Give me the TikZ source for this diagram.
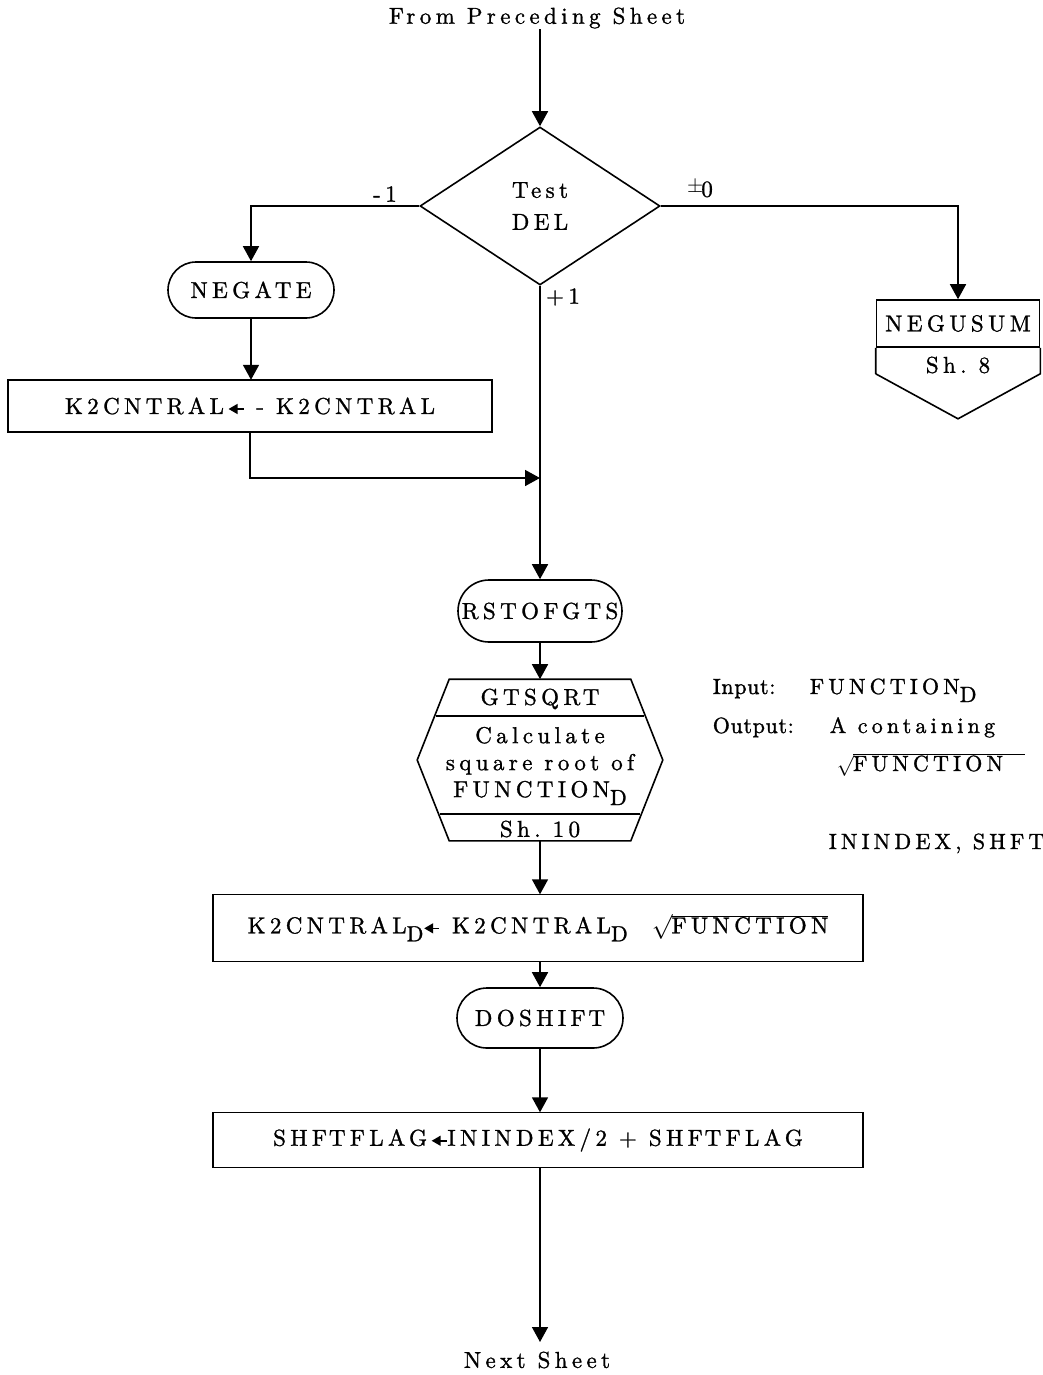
\documentclass[tikz,border=0pt]{standalone}
\usepackage{fontspec}
\setmainfont{lmroman10-regular}[Extension=.otf, LetterSpace=19, FakeBold=1.2]
\usetikzlibrary{arrows.meta,shapes.geometric,calc}

% lowered subscript letter as typed on the sheet
\newcommand\subD{\raisebox{-8pt}{\fontsize{22}{22}\selectfont D}}
% small filled assignment arrow
\newcommand\lar{\tikz[baseline=-5pt]\draw[line width=1.5pt,-{Triangle[width=10pt,length=9pt]}] (15pt,0pt) -- (0pt,0pt);}
% square root sign with bar
\newcommand\rootof[1]{$\surd$\kern-1pt$\overline{\hbox{#1}}$}

\begin{document}
\begin{tikzpicture}[x=1pt,y=-1pt,line width=1.6pt,
  flow/.style={-{Triangle[width=16pt,length=15pt]}},
  txt/.style={font=\fontsize{23}{32}\selectfont,inner sep=0pt},
  side/.style={font=\fontsize{22}{26}\selectfont,inner sep=0pt,anchor=base west},
  sidelabel/.style={side,font=\fontsize{22}{26}\selectfont\addfontfeatures{LetterSpace=3}},
  procbox/.style={draw,rectangle,inner sep=0pt,font=\fontsize{23}{27}\selectfont},
  term/.style={draw,rectangle,rounded corners=28pt,inner sep=0pt,font=\fontsize{23}{27}\selectfont},
  decision/.style={draw,diamond,inner sep=0pt,align=center,font=\fontsize{23}{32}\selectfont}]

\fill[white] (0,0) rectangle (1043,1375);
\useasboundingbox (0,0) rectangle (1043,1375);

% entry
\node[txt] (src) at (537,18) {From Preceding Sheet};
\node[decision,minimum width=240pt,minimum height=158pt] (d) at (540,206) {Test\\DEL};

% -1 branch
\node[term,minimum width=166pt,minimum height=56pt] (negate) at (251,290) {NEGA\kern3pt TE};
\node[procbox,minimum width=484pt,minimum height=52pt] (k2) at (250,406) {K2CNTRAL\,\lar\ - K2CNTRAL};
\coordinate (merge) at (540,478);

% zero branch: off-page connector
\node[draw,rectangle,inner sep=0pt,minimum width=163pt,minimum height=47pt,font=\fontsize{23}{27}\selectfont] (negu) at (958,323.5) {NEGUSUM};
\draw ($(negu.south west)+(0,26)$) -- (negu.south west) (negu.south east) -- ($(negu.south east)+(0,26)$)
      -- ($(negu.south)+(0,71)$) -- ($(negu.south west)+(0,26)$);
\node[txt] (negush) at (958,365) {Sh.\ 8};

% main column
\node[term,minimum width=164pt,minimum height=62pt,rounded corners=31pt] (rst) at (540,611) {RSTOFGTS};

\node[inner sep=0pt,minimum width=244pt,minimum height=160pt] (hex) at (540,760) {};
\draw ($(hex.north west)+(32,0)$) -- ($(hex.north east)+(-32,0)$) -- (hex.east)
      -- ($(hex.south east)+(-32,0)$) -- ($(hex.south west)+(32,0)$) -- (hex.west) -- cycle;
\draw (435.6,716) -- (644.4,716);
\draw (439.6,814) -- (640.4,814);
\node[txt] (hname) at (540,699) {GTSQRT};
\node[txt,align=center,font=\fontsize{23}{27}\selectfont] (hbody) at (540,766) {Calculate\\square root of\\FUNCTION\subD};
\node[txt] (hsheet) at (540,829) {Sh.\ 10};

\node[procbox,minimum width=650pt,minimum height=67pt] (k2d) at (538,928) {K2CNTRAL\subD\lar\ K2CNTRAL\subD\ \ \rootof{FUNCTION}};
\node[term,minimum width=166pt,minimum height=60pt,rounded corners=30pt] (dosh) at (540,1018) {DOSHIF\kern3pt T};
\node[procbox,minimum width=650pt,minimum height=55pt] (shft) at (538,1140) {SHF\kern2pt TFLAG\,\lar ININDEX/2 + SHF\kern2pt TFLAG};
\coordinate (exit) at (540,1342);
\node[txt] (next) at (537,1360) {Next Sheet};

% notes
\node[sidelabel] (inlbl) at (712,694) {Input:};
\node[side] (inval) at (809,694) {FUNCTION\subD};
\node[sidelabel] (outlbl) at (712,733) {Output:};
\node[side] (outval) at (829,733) {A containing};
\node[side] (outroot) at (836,771) {\rootof{FUNCTION\kern22pt}};
\node[side] (regs) at (828,849) {ININDEX, SHFT};

% connectors
\draw[flow] (d.north |- src.south) -- (d.north);
\draw[flow] (d.west) -| (negate.north);
\draw[flow] (d.east) -| (negu.north);
\draw[flow] (negate.south) -- (negate.south |- k2.north);
\draw[flow] (k2.south) |- (merge);
\draw[flow] (d.south) -- (rst.north);
\draw[flow] (rst) -- (hex.north);
\draw[flow] (hex.south) -- (hex.south |- k2d.north);
\draw[flow] (k2d.south -| dosh.north) -- (dosh.north);
\draw[flow] (dosh.south) -- (dosh.south |- shft.north);
\draw[flow] (shft.south -| exit) -- (exit);

% branch values
\node[txt] (lm) at (385,194) {-1};
\node[txt] (lz) at (700,189) {\raisebox{4pt}{\fontsize{20}{20}\selectfont$\pm$}\kern-2pt0};
\node[txt] (lp) at (563,297) {+1};
\end{tikzpicture}
\end{document}
